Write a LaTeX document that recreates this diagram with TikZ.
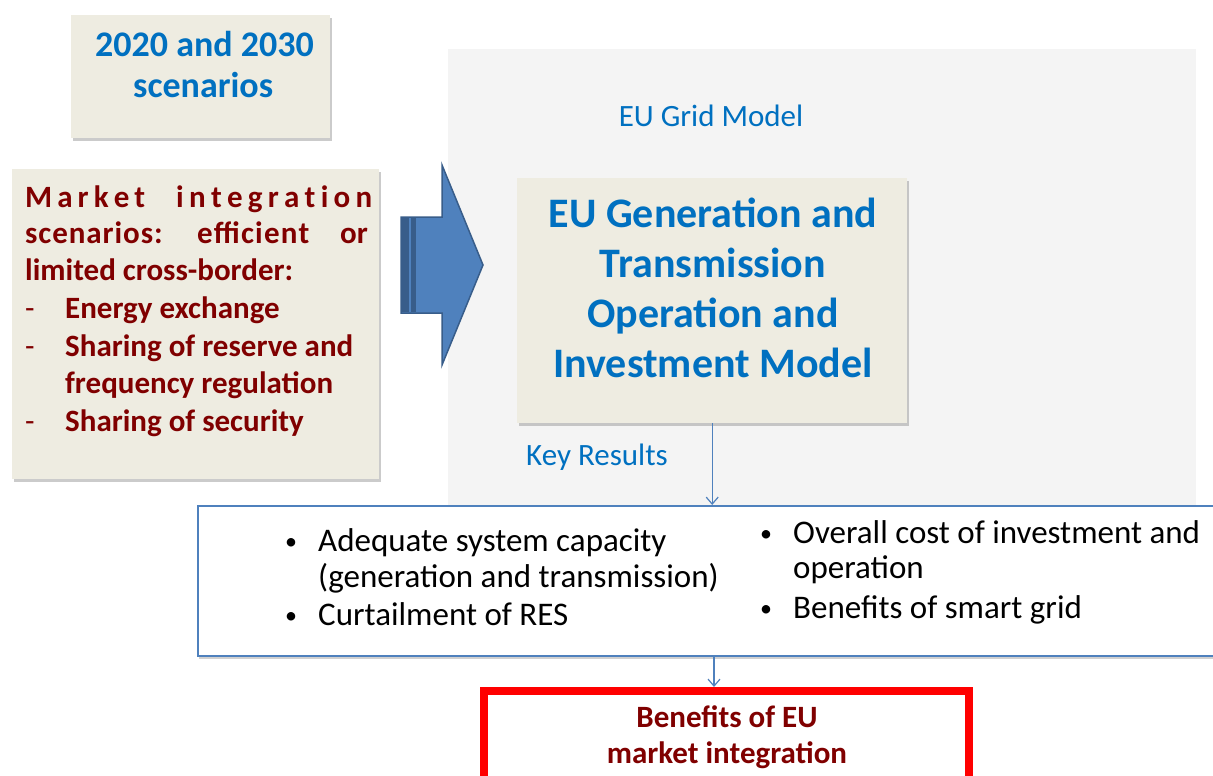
\documentclass[tikz,border=0pt]{standalone}
\usepackage{fontspec}
\setmainfont{Carlito}
\usetikzlibrary{shadows,arrows.meta}
\definecolor{beige}{HTML}{EEECE1}
\definecolor{tblue}{HTML}{0070C0}
\definecolor{dred}{HTML}{800000}
\definecolor{abl}{HTML}{4F81BD}
\definecolor{abd}{HTML}{385D8A}
\definecolor{bgg}{HTML}{F4F4F4}
\newcommand\fsz[1]{\fontsize{#1}{#1}\selectfont}
\tikzset{
  tanbox/.style={fill=beige, draw=none, inner sep=0pt, anchor=north west,
    drop shadow={shadow xshift=1.5pt, shadow yshift=-3pt, fill=black!45, opacity=.45}},
  resbox/.style={fill=white, draw=abl, line width=1.5pt, inner sep=0pt, anchor=north west,
    drop shadow={shadow xshift=1pt, shadow yshift=-3pt, fill=black!45, opacity=.4}},
  redbox/.style={fill=white, draw=red, line width=8pt, inner sep=0pt, anchor=north west},
  scentxt/.style={text=tblue, font=\bfseries\fsz{36}, inner sep=0pt, anchor=base west},
  mkt/.style={text=dred, font=\bfseries\fsz{31}, inner sep=0pt, anchor=base west},
  mdash/.style={text=dred, font=\fsz{31}, inner sep=0pt, anchor=base west},
  modtxt/.style={text=tblue, font=\bfseries\fsz{42}, inner sep=0pt, anchor=base},
  lbl/.style={text=tblue, font=\fsz{31}, inner sep=0pt, anchor=base},
  restxt/.style={text=black, font=\fsz{33}, inner sep=0pt, anchor=base west},
  bul/.style={text=black, font=\fsz{24}, inner sep=0pt, anchor=base west},
  bentxt/.style={text=dred, font=\bfseries\fsz{31}, inner sep=0pt, anchor=base},
  conn/.style={draw=abl, line width=1.2pt, -{Straight Barb[length=7pt,width=12pt,line width=1.2pt]}}
}
\begin{document}
\begin{tikzpicture}[x=1pt,y=-1pt]
\useasboundingbox (0,0) rectangle (1213,776);
\fill[white] (0,0) rectangle (1213,776);
% grey model region
\fill[bgg] (448,49) rectangle (1196,516);

% scenario box
\node[tanbox, minimum width=259pt, minimum height=123pt] (scen) at (71,15) {};
\node[scentxt] (s1) at (95,57) {2020 and 2030};
\node[scentxt] (s2) at (133,97) {scenarios};

% market integration box
\node[tanbox, minimum width=367pt, minimum height=310pt] (mbox) at (12,169) {};
\node[mkt] (m1a) at (25,207) {\makebox[120pt][s]{M\hfill a\hfill r\hfill k\hfill e\hfill t}};
\node[mkt] (m1b) at (176,207) {\makebox[196pt][s]{i\hfill n\hfill t\hfill e\hfill g\hfill r\hfill a\hfill t\hfill i\hfill o\hfill n}};
\node[mkt] (m2a) at (25,243) {\addfontfeature{LetterSpace=3}scenarios:};
\node[mkt] (m2b) at (197,243) {\addfontfeature{LetterSpace=4}efficient};
\node[mkt] (m2c) at (340,243) {or};
\node[mkt] (m3) at (25,280) {limited cross-border:};
\node[mdash] (d4) at (25,318) {-};
\node[mkt] (m4) at (65,318) {Energy exchange};
\node[mdash] (d5) at (25,356) {-};
\node[mkt] (m5) at (65,356) {Sharing of reserve and};
\node[mkt] (m6) at (65,393) {frequency regulation};
\node[mdash] (d7) at (25,431) {-};
\node[mkt] (m7) at (65,431) {Sharing of security};

% big arrow
\filldraw[fill=abl, draw=abd, line width=1.5pt, line join=miter]
  (401,217) -- (442,217) -- (442,165) -- (483,265) -- (442,365) -- (442,313) -- (401,313) -- cycle;
\fill[abd] (401,217.75) rectangle (409,312.25);
\fill[abd] (411,217.75) rectangle (416,312.25);

% labels
\node[lbl] (grid) at (711,126) {EU Grid Model};
\node[lbl] (key) at (597,465) {Key Results};

% model box
\node[tanbox, minimum width=390pt, minimum height=245pt] (model) at (517,178) {};
\node[modtxt] (t1) at (713,227) {EU Generation and};
\node[modtxt] (t2) at (713,277) {Transmission};
\node[modtxt] (t3) at (713,327) {Operation and};
\node[modtxt] (t4) at (713,377) {Investment Model};

% results box
\node[resbox, minimum width=1040pt, minimum height=150pt] (res) at (197,505) {};
\node[bul] (b1) at (285,549) {•};
\node[restxt] (r1) at (318,551) {Adequate system capacity};
\node[restxt] (r2) at (318,587) {(generation and transmission)};
\node[bul] (b3) at (285,623) {•};
\node[restxt] (r3) at (318,625) {Curtailment of RES};
\node[bul] (b4) at (760,541) {•};
\node[restxt] (r4) at (793,543) {Overall cost of investment and};
\node[restxt] (r5) at (793,578) {operation};
\node[bul] (b6) at (760,616) {•};
\node[restxt] (r6) at (793,618) {Benefits of smart grid};

% benefits box
\node[redbox, minimum width=485pt, minimum height=120pt] (ben) at (480,687) {};
\node[bentxt] (e1) at (727,727) {Benefits of EU};
\node[bentxt] (e2) at (727,763) {market integration};

% connectors
\coordinate (ax) at (714,0);
\draw[conn] (model.south) -- (model.south |- res.north);
\draw[conn] (res.south -| ax) -- (ben.north -| ax);
\end{tikzpicture}
\end{document}
